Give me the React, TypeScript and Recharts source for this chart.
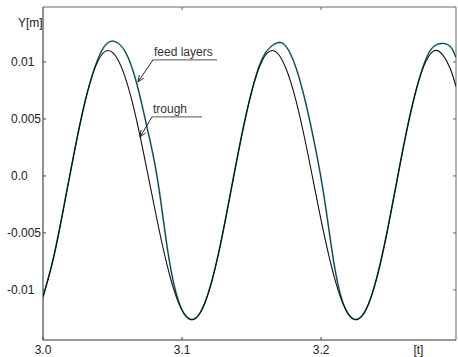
import { LineChart, Line, XAxis, YAxis, ReferenceLine } from "recharts";

// time [s] sampled every 0.0075 s
const time = [
  3.0, 3.0075, 3.015, 3.0225, 3.03, 3.0375, 3.045, 3.0525, 3.06, 3.0675,
  3.075, 3.0825, 3.09, 3.0975, 3.105, 3.1125, 3.12, 3.1275, 3.135, 3.1425,
  3.15, 3.1575, 3.165, 3.1725, 3.18, 3.1875, 3.195, 3.2025, 3.21, 3.2175,
  3.225, 3.2325, 3.24, 3.2475, 3.255, 3.2625, 3.27, 3.2775, 3.285, 3.2925,
  3.297,
];

const feedLayers = [
  -0.01061, -0.0072, -0.00269, 0.00209, 0.0064, 0.0096, 0.0115, 0.01175, 0.0107, 0.00806,
  0.00417, -0.0004, -0.0068, -0.011, -0.01253, -0.01211, -0.00983, -0.00607, -0.0014, 0.00333,
  0.00738, 0.01025, 0.01145, 0.01163, 0.01013, 0.00712, 0.003, -0.0021, -0.0082, -0.01167,
  -0.0126, -0.01167, -0.00895, -0.00488, -0.00011, 0.00452, 0.00827, 0.0108, 0.0116, 0.0114,
  0.01039,
];

const trough = [
  -0.01061, -0.0072, -0.00269, 0.00209, 0.0064, 0.00952, 0.01095, 0.01048, 0.00832, 0.00479,
  0.00039, -0.00415, -0.00819, -0.01113, -0.01253, -0.01211, -0.00983, -0.00607, -0.0014, 0.00333,
  0.00738, 0.01009, 0.011, 0.01005, 0.00749, 0.00368, -0.00084, -0.00532, -0.00911, -0.01167,
  -0.0126, -0.01167, -0.00895, -0.00488, -0.00011, 0.00452, 0.00827, 0.01052, 0.01092, 0.00951,
  0.00784,
];

const xTicks = [3.0, 3.1, 3.2, 3.27];
const xTickLabels = ["3.0", "3.1", "3.2", "[t]"];
const yTicks = [0.01, 0.005, 0, -0.005, -0.01];
const yTickLabels = ["0.01", "0.005", "0.0", "-0.005", "-0.01"];

const xDomain = [3.0, 3.297];
const yDomain = [-0.01439, 0.01482];

const notes = [
  { text: "feed layers", from: 3.0791, to: 3.1252, level: 0.01018, tipT: 3.0683, tipY: 0.00825 },
  { text: "trough", from: 3.0784, to: 3.1144, level: 0.00518, tipT: 3.0698, tipY: 0.00342 },
];

const data = time.map((t, i) => ({ t, feed: feedLayers[i], trough: trough[i] }));

const FONT = "'Liberation Sans', Arial, sans-serif";

const BottomTick = (props: any) => {
  const { x, y, payload } = props;
  const i = xTicks.indexOf(payload.value);
  const label = i >= 0 ? xTickLabels[i] : String(payload.value);
  return (
    <g>
      {label !== "[t]" && <line x1={x} y1={y} x2={x} y2={y - 3} stroke="#444" />}
      <text x={x} y={y + 14} textAnchor="middle" fontSize={12} fontFamily={FONT} fill="#222">
        {label}
      </text>
    </g>
  );
};

const LeftTick = (props: any) => {
  const { x, y, payload } = props;
  const i = yTicks.indexOf(payload.value);
  const label = i >= 0 ? yTickLabels[i] : String(payload.value);
  const tx = label.startsWith("-") ? 7 : 11;
  return (
    <g>
      <line x1={x} y1={y} x2={x + 3} y2={y} stroke="#444" />
      <text x={tx} y={y + 4} textAnchor="start" fontSize={12} fontFamily={FONT} fill="#222">
        {label}
      </text>
    </g>
  );
};

// small inward tick marks on the top and right frame
const TopMark = (props: any) => {
  const { x1, y1 } = props;
  return <line x1={x1} y1={y1} x2={x1} y2={y1 + 3} stroke="#666" />;
};
const RightMark = (props: any) => {
  const { x1, y1 } = props;
  return <line x1={x1} y1={y1} x2={x1 - 3} y2={y1} stroke="#666" />;
};

const Underline = (text: string) => (props: any) => {
  const { x1, y1, x2, y2 } = props;
  return (
    <g>
      <line x1={x1} y1={y1} x2={x2} y2={y2} stroke="#555" strokeWidth={1} />
      <text x={x1 + 1} y={y1 - 4} fontSize={12} fontFamily={FONT} fill="#333">
        {text}
      </text>
    </g>
  );
};

const Arrow = (props: any) => {
  const { x1, y1, x2, y2 } = props;
  const a = Math.atan2(y2 - y1, x2 - x1);
  const len = 7;
  const spread = 0.4;
  const ax = x2 - len * Math.cos(a - spread);
  const ay = y2 - len * Math.sin(a - spread);
  const bx = x2 - len * Math.cos(a + spread);
  const by = y2 - len * Math.sin(a + spread);
  return (
    <g stroke="#222" strokeWidth={1} fill="none">
      <line x1={x1} y1={y1} x2={x2} y2={y2} />
      <polyline points={`${ax},${ay} ${x2},${y2} ${bx},${by}`} />
    </g>
  );
};

export default function App() {
  return (
    <div style={{ position: "absolute", left: 0, top: 0, width: 458, height: 357, background: "#fff" }}>
      <LineChart
        width={458}
        height={357}
        data={data}
        margin={{ top: 7, right: 2, bottom: 0, left: 0 }}
      >
        <XAxis
          dataKey="t"
          type="number"
          domain={xDomain}
          allowDataOverflow
          ticks={xTicks}
          interval={0}
          height={17}
          tickSize={0}
          tickMargin={0}
          tick={<BottomTick />}
          axisLine={{ stroke: "#333", strokeWidth: 1 }}
        />
        <YAxis
          type="number"
          domain={yDomain}
          allowDataOverflow
          ticks={yTicks}
          interval={0}
          width={43}
          tickSize={0}
          tickMargin={0}
          tick={<LeftTick />}
          axisLine={{ stroke: "#222", strokeWidth: 1 }}
          label={{
            content: () => (
              <text x={18} y={27} fontSize={12} fontFamily={FONT} fill="#222">
                Y[m]
              </text>
            ),
          }}
        />

        {/* frame: top and right */}
        <ReferenceLine y={yDomain[1]} stroke="#666" strokeWidth={1} />
        <ReferenceLine x={xDomain[1]} stroke="#666" strokeWidth={1} />
        {xTicks.slice(1, 3).map((t) => (
          <ReferenceLine
            key={"tt" + t}
            segment={[
              { x: t, y: yDomain[1] },
              { x: t, y: yDomain[1] },
            ]}
            shape={TopMark}
          />
        ))}
        {yTicks.map((v) => (
          <ReferenceLine
            key={"rt" + v}
            segment={[
              { x: xDomain[1], y: v },
              { x: xDomain[1], y: v },
            ]}
            shape={RightMark}
          />
        ))}

        <Line
          dataKey="feed"
          type="natural"
          stroke="#6cc6cc"
          strokeWidth={1.9}
          dot={false}
          isAnimationActive={false}
        />
        <Line
          dataKey="feed"
          type="natural"
          stroke="#1c2a2c"
          strokeWidth={1}
          dot={false}
          isAnimationActive={false}
        />
        <Line
          dataKey="trough"
          type="natural"
          stroke="#111"
          strokeWidth={1.1}
          dot={false}
          isAnimationActive={false}
        />

        {notes.map((n) => (
          <ReferenceLine
            key={n.text + "-u"}
            segment={[
              { x: n.from, y: n.level },
              { x: n.to, y: n.level },
            ]}
            shape={Underline(n.text)}
          />
        ))}
        {notes.map((n) => (
          <ReferenceLine
            key={n.text + "-a"}
            segment={[
              { x: n.from, y: n.level },
              { x: n.tipT, y: n.tipY },
            ]}
            shape={Arrow}
          />
        ))}
      </LineChart>
    </div>
  );
}
